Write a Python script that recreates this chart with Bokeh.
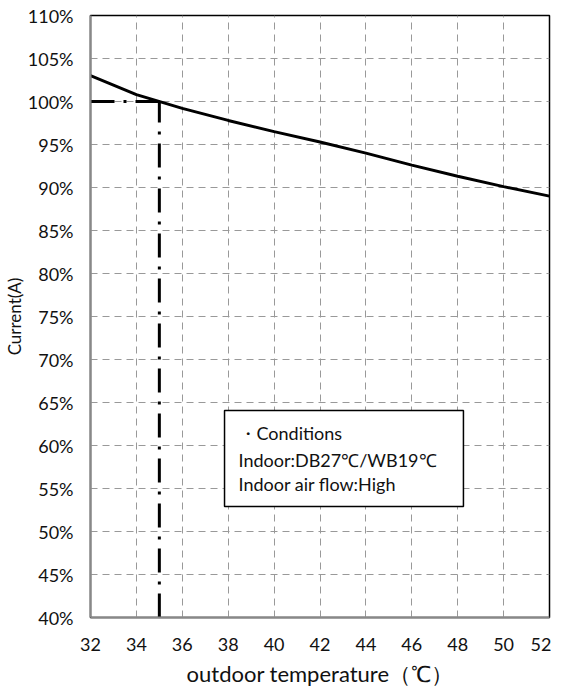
from bokeh.plotting import figure
from bokeh.models import Range1d, FixedTicker, NumeralTickFormatter, ColumnDataSource
from bokeh.core.properties import value
from bokeh.embed import file_html
from bokeh.resources import INLINE

# data
temps = [32, 34, 36, 38, 40, 42, 44, 46, 48, 50, 52]
current = [1.030, 1.008, 0.992, 0.978, 0.965, 0.953, 0.940, 0.926, 0.913, 0.901, 0.890]
ref_temp = 35
ref_current = 1.00
x_ticks = [32, 34, 36, 38, 40, 42, 44, 46, 48, 50, 52]
y_ticks = [0.40, 0.45, 0.50, 0.55, 0.60, 0.65, 0.70, 0.75, 0.80, 0.85, 0.90, 0.95, 1.00, 1.05, 1.10]
note_lines = ["・Conditions", "Indoor:DB27℃/WB19℃", "Indoor air flow:High"]
note_box = dict(left=37.84, right=48.25, top=0.6407, bottom=0.529)
note_x = [38.45, 38.45, 38.45]
note_y = [0.614, 0.5826, 0.5558]

FONT = "Lato"

p = figure(
    output_backend="svg", toolbar_location=None,
    frame_width=459, frame_height=602,
    min_border_left=86, min_border_right=2, min_border_top=15, min_border_bottom=75,
    x_range=Range1d(32, 52), y_range=Range1d(0.40, 1.10),
    background_fill_color="white", border_fill_color="white",
)

p.xaxis.ticker = FixedTicker(ticks=x_ticks)
p.yaxis.ticker = FixedTicker(ticks=y_ticks)
p.yaxis.formatter = NumeralTickFormatter(format="0%")

for ax in (p.xaxis, p.yaxis):
    ax.major_tick_line_color = None
    ax.minor_tick_line_color = None
    ax.major_tick_out = 0
    ax.major_tick_in = 0
    ax.axis_line_color = "#888888"
    ax.axis_line_width = 2
    ax.major_label_text_font = FONT
    ax.major_label_text_font_size = "18px"
    ax.major_label_text_color = "#111111"
    ax.axis_label_text_font = FONT
    ax.axis_label_text_font_style = "normal"
    ax.axis_label_text_color = "#111111"

p.xaxis.major_label_standoff = 20
p.yaxis.major_label_standoff = 17
p.xaxis.axis_label = "outdoor temperature（℃）"
p.xaxis.axis_label_text_font_size = "22px"
p.xaxis.axis_label_standoff = 6
p.yaxis.axis_label = "Current(A)"
p.yaxis.axis_label_text_font_size = "17px"
p.yaxis.axis_label_standoff = 0

for g in (p.xgrid, p.ygrid):
    g.grid_line_color = "#999999"
    g.grid_line_dash = "7 5"
    g.grid_line_width = 1

p.outline_line_color = "black"
p.outline_line_width = 1.5

# reference dash-dot lines
p.line([temps[0], ref_temp], [ref_current, ref_current], line_color="black",
       line_width=3, line_dash="24 9 3 9")
p.line([ref_temp, ref_temp], [y_ticks[0], ref_current], line_color="black",
       line_width=3, line_dash="24 9 3 9")

# main curve
p.line(temps, current, line_color="black", line_width=3)

# note box
p.quad(left=[note_box["left"]], right=[note_box["right"]], top=[note_box["top"]],
       bottom=[note_box["bottom"]], fill_color="white", line_color="black", line_width=1.5)
src = ColumnDataSource(dict(x=note_x, y=note_y, t=note_lines))
p.text(x="x", y="y", text="t", source=src, text_font=value(FONT),
       text_font_size="18px", text_baseline="middle", text_color="#111111")

open("out.html", "w").write(file_html(p, INLINE))
